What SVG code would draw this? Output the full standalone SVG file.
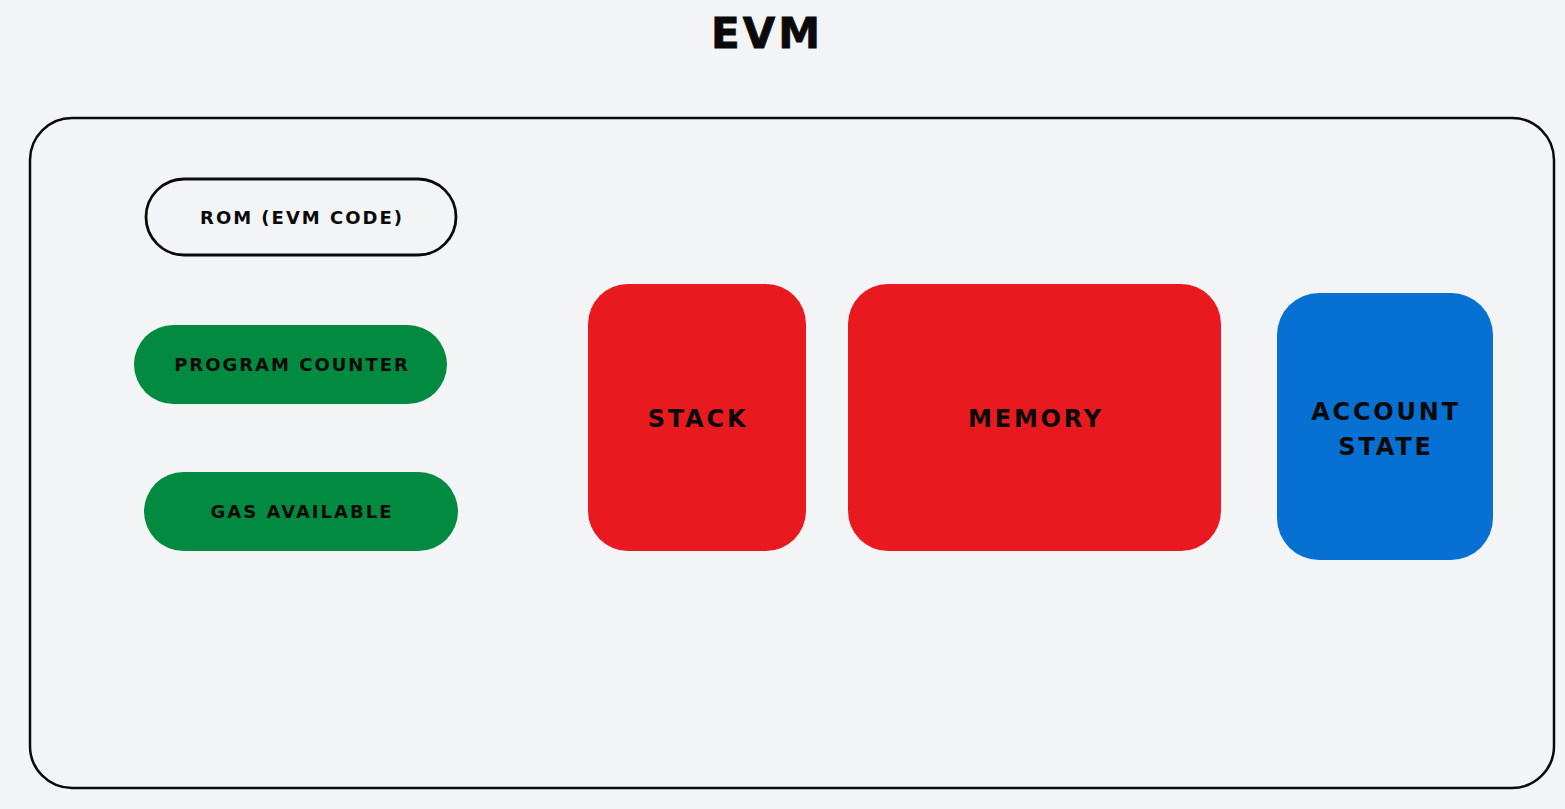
<svg xmlns="http://www.w3.org/2000/svg" width="1565" height="809" viewBox="0 0 1565 809">
<style>
.t{font-family:"DejaVu Sans","Liberation Sans",sans-serif;font-weight:bold;fill:#0a0a0a;text-anchor:middle;}
.s{font-size:18px;letter-spacing:2px;}
.b{font-size:24px;letter-spacing:2.8px;}
</style>
<rect x="0" y="0" width="1565" height="809" fill="#f3f4f6"/>
<text class="t" x="767" y="48" font-size="42" letter-spacing="3" stroke="#0a0a0a" stroke-width="0.8">EVM</text>
<g id="evm">
<rect x="30" y="118" width="1524" height="670" rx="42" fill="none" stroke="#0a0a0a" stroke-width="2.5"/>
</g>
<g id="rom">
<rect x="146" y="179" width="310" height="76" rx="38" fill="#f3f4f6" stroke="#0a0a0a" stroke-width="2.8"/>
<text class="t s" x="302" y="224">ROM (EVM CODE)</text>
</g>
<g id="pc">
<rect x="134" y="325" width="313" height="79" rx="39.5" fill="#028a41"/>
<text class="t s" x="292" y="371">PROGRAM COUNTER</text>
</g>
<g id="gas">
<rect x="144" y="472" width="314" height="79" rx="39.5" fill="#028a41"/>
<text class="t s" x="302" y="518">GAS AVAILABLE</text>
</g>
<g id="stack">
<rect x="588" y="284" width="218" height="267" rx="40" fill="#e81a20"/>
<text class="t b" x="698" y="427">STACK</text>
</g>
<g id="memory">
<rect x="848" y="284" width="373" height="267" rx="40" fill="#e81a20"/>
<text class="t b" x="1036" y="427">MEMORY</text>
</g>
<g id="account">
<rect x="1277" y="293" width="216" height="267" rx="42" fill="#0670d3"/>
<text class="t b" x="1386" y="420">ACCOUNT</text>
<text class="t b" x="1386" y="455">STATE</text>
</g>
<g id="connectors"></g>
</svg>
